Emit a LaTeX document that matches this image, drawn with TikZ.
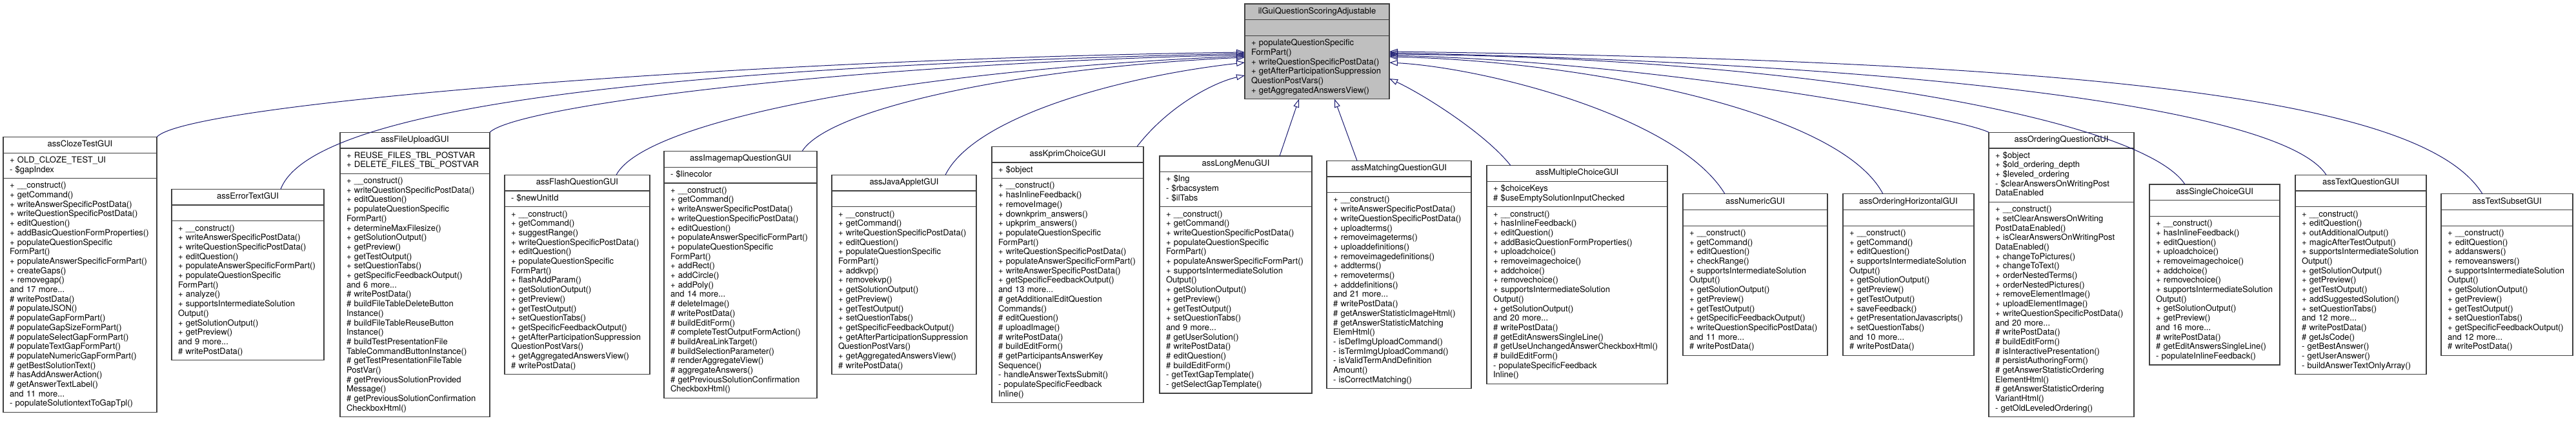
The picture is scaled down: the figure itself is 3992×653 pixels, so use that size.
\documentclass[tikz,border=0pt]{standalone}
\usepackage{fontspec}
\setmainfont{TeX Gyre Heros}
\usepackage{tikz}
\usepackage{xcolor}
\usetikzlibrary{positioning, arrows.meta}
\definecolor{edgeblue}{HTML}{191970}
\definecolor{boxline}{HTML}{404040}
\definecolor{ifacegray}{HTML}{BFBFBF}
\hyphenpenalty=10000
\exhyphenpenalty=10000

\begin{document}
\begin{tikzpicture}[
  x=1pt, y=-1pt,
  >={Triangle[open, length=13pt, width=9pt]},
  every node/.style={font=\fontsize{13}{14.7}\selectfont},
  cls/.style={draw=boxline, line width=1.3pt, fill=white, outer sep=0pt, inner xsep=10pt, inner ysep=5pt,
    execute at begin node=\strut, execute at end node=\strut},
  head/.style={cls, anchor=north west, align=center},
  part/.style={cls, align=left},
  ifacebox/.style={fill=ifacegray},
  inherit/.style={->, draw=edgeblue, line width=1pt}
]
\useasboundingbox (0,0) rectangle (3992,653);

% Interface on top
\node[head, ifacebox, text width=204pt] (iface) at (1929, 6) {ilGuiQuestionScoringAdjustable};
\node[part, ifacebox, text width=204pt, below=0pt of iface] (iface-a) {};
\node[part, ifacebox, text width=204pt, below=0pt of iface-a] (iface-m) {+ populateQuestionSpecific\\FormPart()\\+ writeQuestionSpecificPostData()\\+ getAfterParticipationSuppression\\QuestionPostVars()\\+ getAggregatedAnswersView()};

% assClozeTestGUI
\node[head, text width=218pt] (cloze) at (5, 212.5) {assClozeTestGUI};
\node[part, text width=218pt, below=0pt of cloze] (cloze-a) {+ OLD\_CLOZE\_TEST\_UI\\- \$gapIndex};
\node[part, text width=218pt, below=0pt of cloze-a] (cloze-m) {+ \_\_construct()\\+ getCommand()\\+ writeAnswerSpecificPostData()\\+ writeQuestionSpecificPostData()\\+ editQuestion()\\+ addBasicQuestionFormProperties()\\+ populateQuestionSpecific\\FormPart()\\+ populateAnswerSpecificFormPart()\\+ createGaps()\\+ removegap()\\and 17 more...\\\# writePostData()\\\# populateJSON()\\\# populateGapFormPart()\\\# populateGapSizeFormPart()\\\# populateSelectGapFormPart()\\\# populateTextGapFormPart()\\\# populateNumericGapFormPart()\\\# getBestSolutionText()\\\# hasAddAnswerAction()\\\# getAnswerTextLabel()\\and 11 more...\\- populateSolutiontextToGapTpl()};

% assErrorTextGUI
\node[head, text width=216pt] (errortext) at (266, 293.4) {assErrorTextGUI};
\node[part, text width=216pt, below=0pt of errortext] (errortext-a) {};
\node[part, text width=216pt, below=0pt of errortext-a] (errortext-m) {+ \_\_construct()\\+ writeAnswerSpecificPostData()\\+ writeQuestionSpecificPostData()\\+ editQuestion()\\+ populateAnswerSpecificFormPart()\\+ populateQuestionSpecific\\FormPart()\\+ analyze()\\+ supportsIntermediateSolution\\Output()\\+ getSolutionOutput()\\+ getPreview()\\and 9 more...\\\# writePostData()};

% assFileUploadGUI
\node[head, text width=212pt] (fileupload) at (527, 205.2) {assFileUploadGUI};
\node[part, text width=212pt, below=0pt of fileupload] (fileupload-a) {+ REUSE\_FILES\_TBL\_POSTVAR\\+ DELETE\_FILES\_TBL\_POSTVAR};
\node[part, text width=212pt, below=0pt of fileupload-a] (fileupload-m) {+ \_\_construct()\\+ writeQuestionSpecificPostData()\\+ editQuestion()\\+ populateQuestionSpecific\\FormPart()\\+ determineMaxFilesize()\\+ getSolutionOutput()\\+ getPreview()\\+ getTestOutput()\\+ setQuestionTabs()\\+ getSpecificFeedbackOutput()\\and 6 more...\\\# writePostData()\\\# buildFileTableDeleteButton\\Instance()\\\# buildFileTableReuseButton\\Instance()\\\# buildTestPresentationFile\\TableCommandButtonInstance()\\\# getTestPresentationFileTable\\PostVar()\\\# getPreviousSolutionProvided\\Message()\\\# getPreviousSolutionConfirmation\\CheckboxHtml()};

% assFlashQuestionGUI
\node[head, text width=205pt] (flash) at (782, 271.4) {assFlashQuestionGUI};
\node[part, text width=205pt, below=0pt of flash] (flash-a) {- \$newUnitId};
\node[part, text width=205pt, below=0pt of flash-a] (flash-m) {+ \_\_construct()\\+ getCommand()\\+ suggestRange()\\+ writeQuestionSpecificPostData()\\+ editQuestion()\\+ populateQuestionSpecific\\FormPart()\\+ flashAddParam()\\+ getSolutionOutput()\\+ getPreview()\\+ getTestOutput()\\+ setQuestionTabs()\\+ getSpecificFeedbackOutput()\\+ getAfterParticipationSuppression\\QuestionPostVars()\\+ getAggregatedAnswersView()\\\# writePostData()};

% assImagemapQuestionGUI
\node[head, text width=217pt] (imagemap) at (1029, 234.6) {assImagemapQuestionGUI};
\node[part, text width=217pt, below=0pt of imagemap] (imagemap-a) {- \$linecolor};
\node[part, text width=217pt, below=0pt of imagemap-a] (imagemap-m) {+ \_\_construct()\\+ getCommand()\\+ writeAnswerSpecificPostData()\\+ writeQuestionSpecificPostData()\\+ editQuestion()\\+ populateAnswerSpecificFormPart()\\+ populateQuestionSpecific\\FormPart()\\+ addRect()\\+ addCircle()\\+ addPoly()\\and 14 more...\\\# deleteImage()\\\# writePostData()\\\# buildEditForm()\\\# completeTestOutputFormAction()\\\# buildAreaLinkTarget()\\\# buildSelectionParameter()\\\# renderAggregateView()\\\# aggregateAnswers()\\\# getPreviousSolutionConfirmation\\CheckboxHtml()};

% assJavaAppletGUI
\node[head, text width=204pt] (javaapplet) at (1289, 271.4) {assJavaAppletGUI};
\node[part, text width=204pt, below=0pt of javaapplet] (javaapplet-a) {};
\node[part, text width=204pt, below=0pt of javaapplet-a] (javaapplet-m) {+ \_\_construct()\\+ getCommand()\\+ writeQuestionSpecificPostData()\\+ editQuestion()\\+ populateQuestionSpecific\\FormPart()\\+ addkvp()\\+ removekvp()\\+ getSolutionOutput()\\+ getPreview()\\+ getTestOutput()\\+ setQuestionTabs()\\+ getSpecificFeedbackOutput()\\+ getAfterParticipationSuppression\\QuestionPostVars()\\+ getAggregatedAnswersView()\\\# writePostData()};

% assKprimChoiceGUI
\node[head, text width=215pt] (kprim) at (1537, 227.3) {assKprimChoiceGUI};
\node[part, text width=215pt, below=0pt of kprim] (kprim-a) {+ \$object};
\node[part, text width=215pt, below=0pt of kprim-a] (kprim-m) {+ \_\_construct()\\+ hasInlineFeedback()\\+ removeImage()\\+ downkprim\_answers()\\+ upkprim\_answers()\\+ populateQuestionSpecific\\FormPart()\\+ writeQuestionSpecificPostData()\\+ populateAnswerSpecificFormPart()\\+ writeAnswerSpecificPostData()\\+ getSpecificFeedbackOutput()\\and 13 more...\\\# getAdditionalEditQuestion\\Commands()\\\# editQuestion()\\\# uploadImage()\\\# writePostData()\\\# buildEditForm()\\\# getParticipantsAnswerKey\\Sequence()\\- handleAnswerTextsSubmit()\\- populateSpecificFeedback\\Inline()};

% assLongMenuGUI
\node[head, text width=216pt] (longmenu) at (1797, 242) {assLongMenuGUI};
\node[part, text width=216pt, below=0pt of longmenu] (longmenu-a) {+ \$lng\\- \$rbacsystem\\- \$ilTabs};
\node[part, text width=216pt, below=0pt of longmenu-a] (longmenu-m) {+ \_\_construct()\\+ getCommand()\\+ writeQuestionSpecificPostData()\\+ populateQuestionSpecific\\FormPart()\\+ populateAnswerSpecificFormPart()\\+ supportsIntermediateSolution\\Output()\\+ getSolutionOutput()\\+ getPreview()\\+ getTestOutput()\\+ setQuestionTabs()\\and 9 more...\\\# getUserSolution()\\\# writePostData()\\\# editQuestion()\\\# buildEditForm()\\- getTextGapTemplate()\\- getSelectGapTemplate()};

% assMatchingQuestionGUI
\node[head, text width=204pt] (matching) at (2056, 249.3) {assMatchingQuestionGUI};
\node[part, text width=204pt, below=0pt of matching] (matching-a) {};
\node[part, text width=204pt, below=0pt of matching-a] (matching-m) {+ \_\_construct()\\+ writeAnswerSpecificPostData()\\+ writeQuestionSpecificPostData()\\+ uploadterms()\\+ removeimageterms()\\+ uploaddefinitions()\\+ removeimagedefinitions()\\+ addterms()\\+ removeterms()\\+ adddefinitions()\\and 21 more...\\\# writePostData()\\\# getAnswerStatisticImageHtml()\\\# getAnswerStatisticMatching\\ElemHtml()\\- isDefImgUploadCommand()\\- isTermImgUploadCommand()\\- isValidTermAndDefinition\\Amount()\\- isCorrectMatching()};

% assMultipleChoiceGUI
\node[head, text width=260pt] (multiplechoice) at (2304, 256.7) {assMultipleChoiceGUI};
\node[part, text width=260pt, below=0pt of multiplechoice] (multiplechoice-a) {+ \$choiceKeys\\\# \$useEmptySolutionInputChecked};
\node[part, text width=260pt, below=0pt of multiplechoice-a] (multiplechoice-m) {+ \_\_construct()\\+ hasInlineFeedback()\\+ editQuestion()\\+ addBasicQuestionFormProperties()\\+ uploadchoice()\\+ removeimagechoice()\\+ addchoice()\\+ removechoice()\\+ supportsIntermediateSolution\\Output()\\+ getSolutionOutput()\\and 20 more...\\\# writePostData()\\\# getEditAnswersSingleLine()\\\# getUseUnchangedAnswerCheckboxHtml()\\\# buildEditForm()\\- populateSpecificFeedback\\Inline()};

% assNumericGUI
\node[head, text width=204pt] (numeric) at (2608, 300.8) {assNumericGUI};
\node[part, text width=204pt, below=0pt of numeric] (numeric-a) {};
\node[part, text width=204pt, below=0pt of numeric-a] (numeric-m) {+ \_\_construct()\\+ getCommand()\\+ editQuestion()\\+ checkRange()\\+ supportsIntermediateSolution\\Output()\\+ getSolutionOutput()\\+ getPreview()\\+ getTestOutput()\\+ getSpecificFeedbackOutput()\\+ writeQuestionSpecificPostData()\\and 11 more...\\\# writePostData()};

% assOrderingHorizontalGUI
\node[head, text width=183pt] (orderinghorizontal) at (2856, 300.8) {assOrderingHorizontalGUI};
\node[part, text width=183pt, below=0pt of orderinghorizontal] (orderinghorizontal-a) {};
\node[part, text width=183pt, below=0pt of orderinghorizontal-a] (orderinghorizontal-m) {+ \_\_construct()\\+ getCommand()\\+ editQuestion()\\+ supportsIntermediateSolution\\Output()\\+ getSolutionOutput()\\+ getPreview()\\+ getTestOutput()\\+ saveFeedback()\\+ getPresentationJavascripts()\\+ setQuestionTabs()\\and 10 more...\\\# writePostData()};

% assOrderingQuestionGUI
\node[head, text width=205pt] (ordering) at (3082, 205.2) {assOrderingQuestionGUI};
\node[part, text width=205pt, below=0pt of ordering] (ordering-a) {+ \$object\\+ \$old\_ordering\_depth\\+ \$leveled\_ordering\\- \$clearAnswersOnWritingPost\\DataEnabled};
\node[part, text width=205pt, below=0pt of ordering-a] (ordering-m) {+ \_\_construct()\\+ setClearAnswersOnWriting\\PostDataEnabled()\\+ isClearAnswersOnWritingPost\\DataEnabled()\\+ changeToPictures()\\+ changeToText()\\+ orderNestedTerms()\\+ orderNestedPictures()\\+ removeElementImage()\\+ uploadElementImage()\\+ writeQuestionSpecificPostData()\\and 20 more...\\\# writePostData()\\\# buildEditForm()\\\# isInteractivePresentation()\\\# persistAuthoringForm()\\\# getAnswerStatisticOrdering\\ElementHtml()\\\# getAnswerStatisticOrdering\\VariantHtml()\\- getOldLeveledOrdering()};

% assSingleChoiceGUI
\node[head, text width=182pt] (singlechoice) at (3331, 286) {assSingleChoiceGUI};
\node[part, text width=182pt, below=0pt of singlechoice] (singlechoice-a) {};
\node[part, text width=182pt, below=0pt of singlechoice-a] (singlechoice-m) {+ \_\_construct()\\+ hasInlineFeedback()\\+ editQuestion()\\+ uploadchoice()\\+ removeimagechoice()\\+ addchoice()\\+ removechoice()\\+ supportsIntermediateSolution\\Output()\\+ getSolutionOutput()\\+ getPreview()\\and 16 more...\\\# writePostData()\\\# getEditAnswersSingleLine()\\- populateInlineFeedback()};

% assTextQuestionGUI
\node[head, text width=183pt] (textquestion) at (3557, 271.4) {assTextQuestionGUI};
\node[part, text width=183pt, below=0pt of textquestion] (textquestion-a) {};
\node[part, text width=183pt, below=0pt of textquestion-a] (textquestion-m) {+ \_\_construct()\\+ editQuestion()\\+ outAdditionalOutput()\\+ magicAfterTestOutput()\\+ supportsIntermediateSolution\\Output()\\+ getSolutionOutput()\\+ getPreview()\\+ getTestOutput()\\+ addSuggestedSolution()\\+ setQuestionTabs()\\and 12 more...\\\# writePostData()\\\# getJsCode()\\- getBestAnswer()\\- getUserAnswer()\\- buildAnswerTextOnlyArray()};

% assTextSubsetGUI
\node[head, text width=184pt] (textsubset) at (3783, 300.8) {assTextSubsetGUI};
\node[part, text width=184pt, below=0pt of textsubset] (textsubset-a) {};
\node[part, text width=184pt, below=0pt of textsubset-a] (textsubset-m) {+ \_\_construct()\\+ editQuestion()\\+ addanswers()\\+ removeanswers()\\+ supportsIntermediateSolution\\Output()\\+ getSolutionOutput()\\+ getPreview()\\+ getTestOutput()\\+ setQuestionTabs()\\+ getSpecificFeedbackOutput()\\and 12 more...\\\# writePostData()};

% Inheritance, left side
\draw[inherit] (cloze.north east) .. controls (290,160) and (1150,92) .. ([yshift=23.5pt]iface-m.west);
\draw[inherit] ([xshift=169pt]errortext.north west) .. controls (480,175) and (950,105) .. ([yshift=21.5pt]iface-m.west);
\draw[inherit] (fileupload.north east) .. controls (800,165) and (1300,100) .. ([yshift=19.5pt]iface-m.west);
\draw[inherit] ([xshift=173pt]flash.north west) .. controls (1000,185) and (1420,108) .. ([yshift=17.5pt]iface-m.west);
\draw[inherit] ([xshift=214pt]imagemap.north west) .. controls (1285,168) and (1580,105) .. ([yshift=15.5pt]iface-m.west);
\draw[inherit] ([xshift=176pt]javaapplet.north west) .. controls (1510,180) and (1740,118) .. ([yshift=7.5pt]iface-m.west);
\draw[inherit] ([xshift=225pt]kprim.north west) .. controls (1810,165) and (1880,128) .. ([yshift=-12.5pt]iface-m.west);

% Inheritance, straight up
\draw[inherit] ([xshift=186pt]longmenu.north west) -- ([xshift=-28pt]iface-m.south);
\draw[inherit] ([xshift=47pt]matching.north west) -- ([xshift=27pt]iface-m.south);

% Inheritance, right side
\draw[inherit] ([xshift=37pt]multiplechoice.north west) .. controls (2301,206) and (2203,145) .. ([yshift=-17.5pt]iface-m.east);
\draw[inherit] ([xshift=65pt]numeric.north west) .. controls (2600,180) and (2300,105) .. ([yshift=7.5pt]iface-m.east);
\draw[inherit] ([xshift=62pt]orderinghorizontal.north west) .. controls (2850,170) and (2450,95) .. ([yshift=16.5pt]iface-m.east);
\draw[inherit] (ordering.north west) .. controls (3030,180) and (2550,95) .. ([yshift=18.5pt]iface-m.east);
\draw[inherit] ([xshift=55pt]singlechoice.north west) .. controls (3320,185) and (2800,90) .. ([yshift=20.5pt]iface-m.east);
\draw[inherit] ([xshift=48pt]textquestion.north west) .. controls (3540,170) and (3000,100) .. ([yshift=22.5pt]iface-m.east);
\draw[inherit] ([xshift=64pt]textsubset.north west) .. controls (3760,160) and (3300,95) .. ([yshift=24.5pt]iface-m.east);

\end{tikzpicture}
\end{document}
